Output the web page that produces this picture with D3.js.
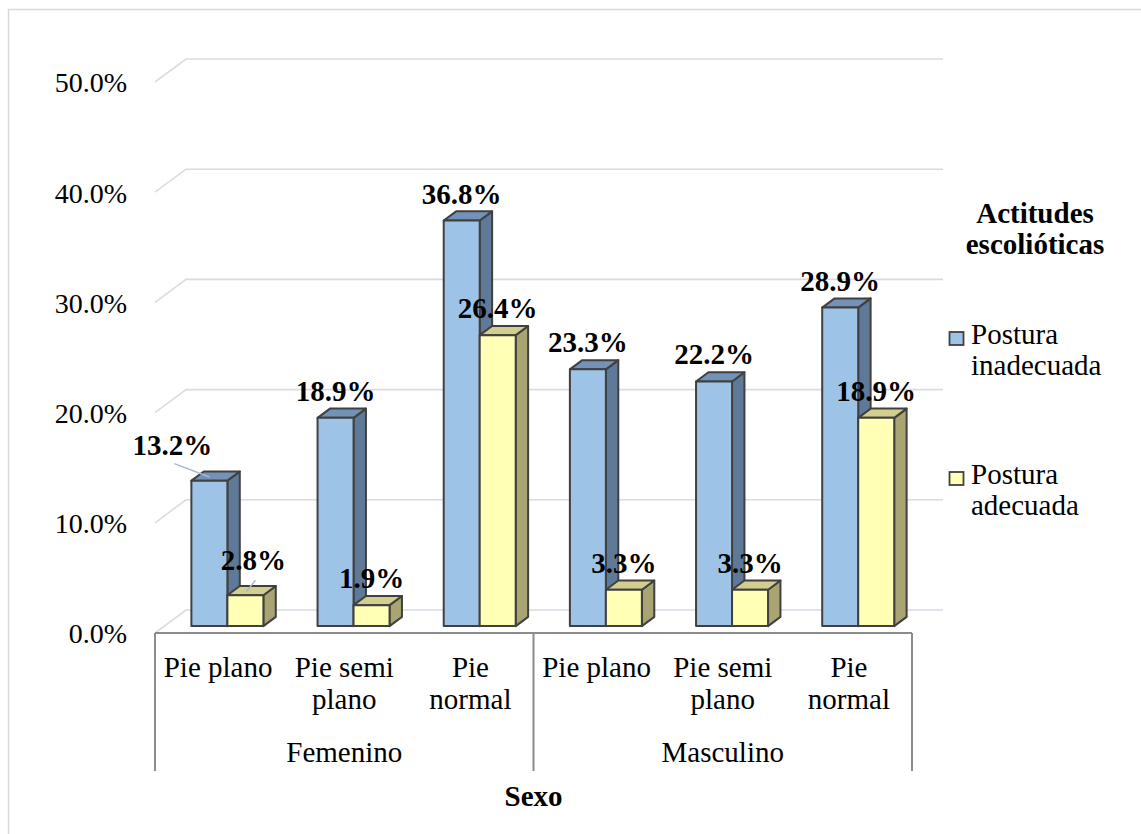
<!DOCTYPE html>
<html>
<head>
<meta charset="utf-8">
<script src="https://cdn.jsdelivr.net/npm/d3@7"></script>
<style>
  html, body { margin: 0; padding: 0; background: #fff; }
  svg { display: block; }
</style>
</head>
<body>
<svg id="chart" width="1141" height="834"></svg>
<script>
// Grupos (sexo) y tipos de pie
const sexos = ["Femenino", "Masculino"];
const tiposPie = [["Pie plano"], ["Pie semi", "plano"], ["Pie", "normal"]];
const series = ["Postura inadecuada", "Postura adecuada"];
const legendLines = [["Postura", "inadecuada"], ["Postura", "adecuada"]];
const legendTitle = ["Actitudes", "escolióticas"];
const axisTitle = "Sexo";

// Porcentajes por categoría (Femenino: plano, semi plano, normal; Masculino: ídem)
const posturaInadecuada = [13.2, 18.9, 36.8, 23.3, 22.2, 28.9];
const posturaAdecuada   = [2.8, 1.9, 26.4, 3.3, 3.3, 18.9];

const yTicks = [0, 10, 20, 30, 40, 50];

// Categorías planas para la escala de bandas
const categorias = [];
sexos.forEach((s, gi) => tiposPie.forEach((t, ti) => categorias.push({ id: gi + "-" + ti, sexo: s, lineas: t })));
const valores = [posturaInadecuada, posturaAdecuada];

const FONT = "'Liberation Serif', 'Times New Roman', Times, serif";
const svg = d3.select("#chart");

function txt(parent, size) {
  return parent.append("text").style("font-family", FONT).style("font-size", (size || 29) + "px").attr("fill", "#000");
}

// Geometría de la vista 3D
const x0 = 155, x1 = 912;          // plano frontal del suelo
const yBase = 633;                 // línea frontal del suelo
const depthX = 31, depthY = -23;   // profundidad del "muro" trasero
const barD0 = 0.3, barD1 = 0.7;    // posición de las barras en profundidad

const x = d3.scaleBand().domain(categorias.map(c => c.id)).range([x0, x1]);
const barW = 36;
const po = (x.bandwidth() / barW - 2) / 2;
const xs = d3.scaleBand().domain(series).range([0, x.bandwidth()]).paddingInner(0).paddingOuter(po);
const h = d3.scaleLinear().domain([0, 50]).range([0, 551]);
const yFront = d3.scaleLinear().domain([0, 50]).range([yBase, yBase - 551]);

// Marco exterior
svg.append("rect").attr("x", 8.5).attr("y", 9.5).attr("width", 1150).attr("height", 850)
  .attr("fill", "none").attr("stroke", "#d9d9d9").attr("stroke-width", 1.5);

// Líneas de cuadrícula (pared izquierda + pared trasera)
const grid = svg.append("g");
yTicks.forEach(t => {
  const yf = yFront(t);
  grid.append("polyline")
    .attr("points", [[x0, yf], [x0 + depthX, yf + depthY], [x1 + depthX, yf + depthY]].map(p => p.join(",")).join(" "))
    .attr("fill", "none").attr("stroke", "#d9dce6").attr("stroke-width", 1.6);
});

// Eje Y con las etiquetas de porcentaje
const yAxis = d3.axisLeft(yFront).tickValues(yTicks).tickSize(0).tickPadding(0)
  .tickFormat(d => d3.format(".1%")(d / 100));
const gy = svg.append("g").attr("transform", "translate(127,0)").call(yAxis);
gy.select(".domain").remove();
gy.selectAll("text").style("font-family", FONT).style("font-size", "28px")
  .attr("fill", "#000").attr("dy", "0.35em");

// Barras 3D
const colores = [
  { front: "#9dc3e6", top: "#7292b8", side: "#5f7a98" },
  { front: "#ffffb5", top: "#d2ce8e", side: "#a8a572" }
];
const outline = "#404040";
const bars = svg.append("g");
const bdx = (barD1 - barD0) * depthX, bdy = (barD1 - barD0) * depthY;
const posiciones = [];
categorias.forEach((c, ci) => {
  series.forEach((s, si) => {
    const v = valores[si][ci];
    const left = x(c.id) + xs(s) + barD0 * depthX;
    const right = left + xs.bandwidth();
    const bottom = yBase + barD0 * depthY;
    const top = bottom - h(v);
    const g = bars.append("g").attr("stroke", outline).attr("stroke-width", 2).attr("stroke-linejoin", "round");
    // lateral derecho
    g.append("polygon").attr("fill", colores[si].side)
      .attr("points", [[right, top], [right + bdx, top + bdy], [right + bdx, bottom + bdy], [right, bottom]].map(p => p.join(",")).join(" "));
    // cara superior
    g.append("polygon").attr("fill", colores[si].top)
      .attr("points", [[left, top], [left + bdx, top + bdy], [right + bdx, top + bdy], [right, top]].map(p => p.join(",")).join(" "));
    // cara frontal
    g.append("rect").attr("fill", colores[si].front)
      .attr("x", left).attr("y", top).attr("width", right - left).attr("height", bottom - top);
    posiciones.push({ ci, si, v, cx: (left + right) / 2, top, left, right });
  });
});

// Línea frontal del suelo y divisiones del eje de categorías
const axisColor = "#8c8c8c";
svg.append("line").attr("x1", x0).attr("x2", x1).attr("y1", yBase).attr("y2", yBase)
  .attr("stroke", axisColor).attr("stroke-width", 2);
const divisiones = [x0, x(categorias[3].id), x1];
divisiones.forEach(xx => {
  svg.append("line").attr("x1", xx).attr("x2", xx).attr("y1", yBase).attr("y2", 771)
    .attr("stroke", axisColor).attr("stroke-width", 2);
});

// Etiquetas de categoría
categorias.forEach(c => {
  const cx = x(c.id) + x.bandwidth() / 2;
  const t = txt(svg).attr("x", cx).attr("y", 677).attr("text-anchor", "middle");
  c.lineas.forEach((l, i) => t.append("tspan").attr("x", cx).attr("dy", i ? 32 : 0).text(l));
});
// Etiquetas de grupo
sexos.forEach((s, gi) => {
  const a = x(categorias[gi * 3].id), b = x(categorias[gi * 3 + 2].id) + x.bandwidth();
  txt(svg).attr("x", (a + b) / 2).attr("y", 762).attr("text-anchor", "middle").text(s);
});
// Título del eje
txt(svg).attr("x", (x0 + x1) / 2).attr("y", 806).attr("text-anchor", "middle")
  .style("font-weight", "bold").text(axisTitle);

// Etiquetas de valor (dos se desplazan con línea guía)
const desplazadas = { "0-0": { dx: -37, dy: -9 }, "0-1": { dx: 8, dy: -8 } };
const labels = svg.append("g");
posiciones.forEach(p => {
  const key = p.ci + "-" + p.si;
  const off = desplazadas[key] || { dx: 0, dy: 0 };
  const lx = p.cx + off.dx, ly = p.top - 17 + off.dy;
  if (desplazadas[key]) {
    labels.append("line")
      .attr("x1", lx + 2).attr("y1", off.dx < 0 ? ly + 9 : ly + 10)
      .attr("x2", off.dx < 0 ? p.cx : p.cx + 1).attr("y2", p.top + bdy / 2 + 1)
      .attr("stroke", "#a9b8cc").attr("stroke-width", 1.5);
  }
  txt(labels).attr("x", lx).attr("y", ly).attr("text-anchor", "middle")
    .style("font-weight", "bold").text(d3.format(".1f")(p.v) + "%");
});

// Leyenda
const lg = svg.append("g");
legendTitle.forEach((l, i) => {
  txt(lg).attr("x", 1035).attr("y", 223 + i * 31).attr("text-anchor", "middle")
    .style("font-weight", "bold").text(l);
});
series.forEach((s, si) => {
  const y = 332 + si * 140;
  lg.append("rect").attr("x", 949.5).attr("y", y).attr("width", 14).attr("height", 13)
    .attr("fill", colores[si].front).attr("stroke", outline).attr("stroke-width", 1.8);
  const t = txt(lg).attr("x", 971).attr("y", y + 12);
  legendLines[si].forEach((l, i) => t.append("tspan").attr("x", 971).attr("dy", i ? 31 : 0).text(l));
});
</script>
</body>
</html>
